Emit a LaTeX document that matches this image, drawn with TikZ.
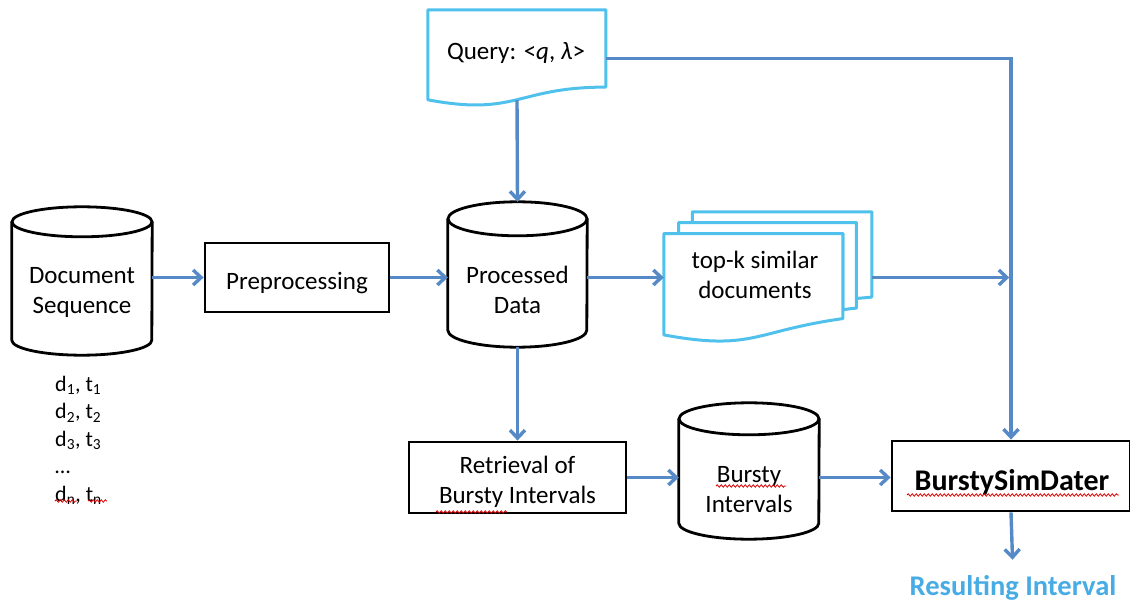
\documentclass[tikz,border=0pt]{standalone}
\usepackage{fontspec}
\setmainfont{Carlito}
\usetikzlibrary{arrows.meta,calc,decorations.pathmorphing}
\definecolor{flow}{RGB}{85,138,198}
\definecolor{docblue}{RGB}{79,193,236}
\definecolor{resblue}{RGB}{72,172,228}
\tikzset{
  area/.style={inner sep=0pt},
  box/.style={draw=black, line width=2.8pt, fill=white, inner sep=0pt},
  lbl/.style={align=center, font=\fontsize{25}{30}\selectfont, inner sep=0pt},
  arr/.style={draw=flow, line width=3.4pt, -{Straight Barb[length=8pt,width=15pt]}},
  cyl/.style={draw=black, line width=2.8pt},
  docline/.style={draw=docblue, line width=3pt, fill=white, line join=round},
  spell/.style={draw=red!85!black, line width=0.8pt, decorate,
    decoration={snake, amplitude=1.2pt, segment length=4pt}}
}
% cylinder outline around a node: #1 name, #2 x radius, #3 y radius
\newcommand\drawcyl[3]{%
  \draw[cyl] ($(#1.north west)+(0,-#3)$) -- ($(#1.south west)+(0,#3)$)
     arc[start angle=180, end angle=360, x radius=#2pt, y radius=#3pt]
     -- ($(#1.north east)+(0,-#3)$);
  \draw[cyl] ($(#1.north)+(0,-#3)$) ellipse[x radius=#2pt, y radius=#3pt];
}
\begin{document}
\begin{tikzpicture}[x=1pt,y=1pt]
\useasboundingbox (0,0) rectangle (1130,603);

% document sequence
\node[area, minimum width=140pt, minimum height=148pt] (docseq) at (82,322) {};
\drawcyl{docseq}{70}{15}
\node[lbl] (docseqlbl) at (82,311) {Document\\Sequence};

\node[anchor=north west, align=left, inner sep=0pt,
      font=\fontsize{22}{27.5}\selectfont] (dlist) at (55,227)
  {d\textsubscript{1}, t\textsubscript{1}\\
   d\textsubscript{2}, t\textsubscript{2}\\
   d\textsubscript{3}, t\textsubscript{3}\\
   \dots\\
   d\textsubscript{n}, t\textsubscript{n}};

% preprocessing
\node[box, minimum width=184pt, minimum height=69pt] (prep) at (297,325.5) {};
\node[lbl] (preplbl) at (297,319.5) {Preprocessing};

% processed data
\node[area, minimum width=139pt, minimum height=145pt] (procdata) at (517.5,328.5) {};
\drawcyl{procdata}{69.5}{17}
\node[lbl] (procdatalbl) at (517.5,313.5) {Processed\\Data};

% query document
\node[area, minimum width=178pt, minimum height=90pt] (query) at (517,548) {};
\begin{scope}[shift={(query.north west)}, yscale=-1]
  \path[docline] (0,0) -- (178,0) -- (178,77.3)
    .. controls (89,77.3) and (89,106.8) .. (0,90) -- cycle;
\end{scope}
\node[lbl] (querylbl) at (516,550) {Query: <\textit{q}, \textit{λ}>};
\coordinate (qout) at ($(query.north east)+(0,-49)$);

% top-k similar documents
\node[area, minimum width=208pt, minimum height=128pt] (topk) at (768,327) {};
\begin{scope}[shift={(topk.north west)}, yscale=-1]
  \path[docline] (28.6,0) -- (208,0) -- (208,85.3)
    .. controls (200.3,86.0) and (192.6,86.7) .. (192.6,86.7)
    -- (192.6,10.75) -- (28.6,10.75) -- cycle;
  \path[docline] (14.75,10.75) -- (192.6,10.75) -- (192.6,96.3)
    .. controls (185.8,96.9) and (179.1,97.95) .. (179.1,97.95)
    -- (179.1,21.8) -- (14.75,21.8) -- cycle;
  \path[docline] (0,123.1) .. controls (89.5,139.5) and (89.5,119.3) .. (179.1,106.8)
    -- (179.1,21.8) -- (0,21.8) -- cycle;
\end{scope}
\node[lbl] (topklbl) at (755,328) {top-k similar\\documents};

% retrieval of bursty intervals
\node[box, minimum width=217pt, minimum height=71pt] (retr) at (517.5,125.5) {};
\node[lbl] (retrlbl) at (517.5,121.5) {Retrieval of\\Bursty Intervals};

% bursty intervals
\node[area, minimum width=140pt, minimum height=136pt] (bursty) at (749,132) {};
\drawcyl{bursty}{70}{16}
\node[lbl] (burstylbl) at (749,113) {Bursty\\Intervals};

% BurstySimDater
\node[box, minimum width=238pt, minimum height=70pt] (bsd) at (1011,127) {};
\node[lbl, font=\fontsize{30}{36}\selectfont\bfseries] (bsdlbl) at (1012,121) {BurstySimDater};

% result
\node[anchor=base, inner sep=0pt, text=resblue,
      font=\fontsize{28.5}{34}\selectfont\bfseries] (result) at (1013,8) {Resulting Interval};

% connectors
\draw[arr] (docseq.east |- prep.west) -- (prep.west);
\draw[arr] (prep.east) -- (prep.east -| procdata.west);
\draw[arr] (query.south) -- (procdata.north);
\draw[arr] (procdata.east |- prep.east) -- (topk.west |- prep.east);
\draw[arr, shorten >=1.7pt] (topk.east |- prep.east) -- (bsd.north |- prep.east);
\draw[arr] (qout) -| (bsd.north);
\draw[arr] (procdata.south) -- (retr.north);
\draw[arr] (retr.east) -- (retr.east -| bursty.west);
\draw[arr] (bursty.east |- retr.east) -- (bsd.west |- retr.east);
\draw[arr, shorten >=15pt] (bsd.south) -- (result.north);

% spelling marks
\draw[spell] (436,91) -- (507,91);
\draw[spell] (716,117) -- (786,117);
\draw[spell] (907,108) -- (1119,108);
\draw[spell] (55,102) -- (77,102);
\draw[spell] (88,102) -- (107,102);
\end{tikzpicture}
\end{document}
